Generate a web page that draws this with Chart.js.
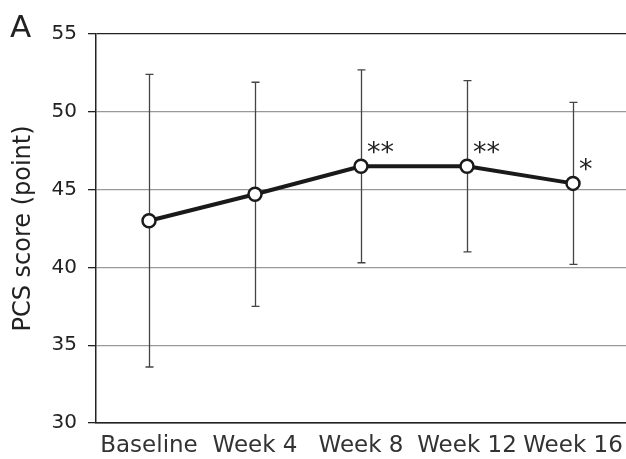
<!DOCTYPE html>
<html>
<head>
<meta charset="utf-8">
<script src="https://cdn.jsdelivr.net/npm/chart.js@4"></script>
<style>
  html, body { margin: 0; padding: 0; background: #fff; overflow: hidden; }
  #wrap { width: 635px; height: 459px; }
</style>
</head>
<body>
<div id="wrap"><canvas id="pcsChart"></canvas></div>
<script>
const categories = ['Baseline', 'Week 4', 'Week 8', 'Week 12', 'Week 16'];
const meanScore = [43.0, 44.7, 46.5, 46.5, 45.4];
const upperBar = [52.4, 51.9, 52.7, 52.0, 50.6];
const lowerBar = [33.6, 37.5, 40.3, 41.0, 40.2];
const significance = ['', '', '**', '**', '*'];
const yTicks = [30, 35, 40, 45, 50, 55];

const FONT = '"DejaVu Sans", Verdana, sans-serif';

// error bars + asterisks, drawn through the chart scales
const errorBars = {
    id: 'errorBars',
    beforeDatasetsDraw(chart) {
        const ctx = chart.ctx;
        const x = chart.scales.x, y = chart.scales.y;
        ctx.save();
        ctx.strokeStyle = '#444';
        ctx.lineWidth = 1.3;
        categories.forEach((c, i) => {
            const px = Math.round(x.getPixelForValue(i)) + 0.5;
            const top = y.getPixelForValue(upperBar[i]);
            const bot = y.getPixelForValue(lowerBar[i]);
            ctx.beginPath();
            ctx.moveTo(px, top); ctx.lineTo(px, bot);
            ctx.moveTo(px - 4, top); ctx.lineTo(px + 4, top);
            ctx.moveTo(px - 4, bot); ctx.lineTo(px + 4, bot);
            ctx.stroke();
        });
        ctx.restore();
    },
    afterDatasetsDraw(chart) {
        const ctx = chart.ctx;
        const x = chart.scales.x, y = chart.scales.y;
        ctx.save();
        ctx.fillStyle = '#222';
        ctx.font = '27px ' + FONT;
        ctx.textBaseline = 'middle';
        significance.forEach((s, i) => {
            if (!s) return;
            ctx.fillText(s, x.getPixelForValue(i) + 6, y.getPixelForValue(meanScore[i]) - 12);
        });
        // panel letter
        ctx.font = '31px ' + FONT;
        ctx.textBaseline = 'alphabetic';
        ctx.fillText('A', 10, 37);
        ctx.restore();
    }
};

const config = {
    type: 'line',
    data: {
        labels: categories,
        datasets: [{
            label: 'PCS score',
            data: meanScore,
            borderColor: '#1a1a1a',
            borderWidth: 4,
            pointRadius: 6.5,
            pointBorderWidth: 2.5,
            pointBackgroundColor: '#fff',
            pointBorderColor: '#1a1a1a',
            tension: 0
        }]
    },
    options: {
        responsive: true,
        maintainAspectRatio: false,
        animation: false,
        layout: { padding: { top: 34, right: 0, bottom: 0, left: 0 } },
        plugins: {
            legend: { display: false },
            tooltip: { enabled: false }
        },
        scales: {
            x: {
                offset: true,
                grid: { display: false, drawTicks: false },
                border: { display: true, color: '#222', width: 1.5 },
                ticks: { color: '#333', font: { family: FONT, size: 23 }, padding: 9, maxRotation: 0 },
                afterFit(scale) { scale.height = 36; }
            },
            y: {
                min: 30,
                max: 55,
                afterBuildTicks(scale) { scale.ticks = yTicks.map(v => ({ value: v })); },
                grid: {
                    color: ctx => (ctx.tick && (ctx.tick.value === 55 || ctx.tick.value === 30)) ? '#222' : '#999',
                    lineWidth: 1.3,
                    tickLength: 8,
                    tickColor: '#222'
                },
                border: { display: true, color: '#222', width: 1.5 },
                ticks: { color: '#222', font: { family: FONT, size: 20 }, padding: 11 },
                title: {
                    display: true,
                    text: 'PCS score (point)',
                    color: '#222',
                    font: { family: FONT, size: 24 },
                    padding: { top: 9, bottom: 4 }
                },
                afterFit(scale) { scale.width = 96; }
            }
        }
    },
    plugins: [errorBars]
};

const ctx = document.getElementById('pcsChart').getContext('2d');
const pcsChart = new Chart(ctx, config);
</script>
</body>
</html>
